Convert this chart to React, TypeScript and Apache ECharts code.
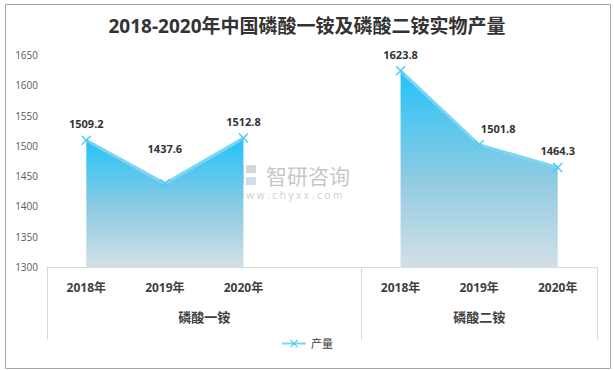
import React, { useEffect, useRef } from "react";
import * as echarts from "echarts";

const titleText = "2018-2020年中国磷酸一铵及磷酸二铵实物产量";
const yearLabels = ["2018年", "2019年", "2020年", "", "2018年", "2019年", "2020年"];
const groupNames = ["磷酸一铵", "磷酸二铵"];
const groupCenters = [2, 5.5];
const groupBounds = [0, 4, 7];
const monoValues = [1509.2, 1437.6, 1512.8, null, null, null, null];
const diValues = [null, null, null, null, 1623.8, 1501.8, 1464.3];
const seriesName = "产量";
const yTicks = { min: 1300, max: 1650, interval: 50 };

const xPath =
  "path://M0,1L1,0L5,4L9,0L10,1L6,5L10,9L9,10L5,6L1,10L0,9L4,5Z";

const labelShift: Record<string, number[]> = {
  "1437.6": [0, -19],
  "1501.8": [19, 0],
};

function buildData(vals: (number | null)[]) {
  return vals.map((v) => {
    if (v === null) return null;
    const off = labelShift[String(v)];
    return off ? { value: v, label: { offset: off } } : v;
  });
}

const areaGradient = () =>
  new echarts.graphic.LinearGradient(0, 0, 0, 1, [
    { offset: 0, color: "#22c3f9" },
    { offset: 0.55, color: "#8fcbe2" },
    { offset: 1, color: "#d3e0e7" },
  ]);

function makeSeries(vals: (number | null)[]) {
  return {
    name: seriesName,
    type: "line",
    data: buildData(vals),
    connectNulls: false,
    symbol: xPath,
    symbolSize: 10,
    itemStyle: { color: "#4ccaf4" },
    lineStyle: { color: "#7dd5f4", width: 3 },
    areaStyle: { color: areaGradient(), opacity: 1 },
    label: {
      show: true,
      position: "top",
      distance: 6,
      fontSize: 11,
      fontWeight: "bold",
      color: "#333333",
      fontFamily: "Open Sans, Noto Sans CJK SC, sans-serif",
    },
  };
}

export default function App() {
  const ref = useRef<HTMLDivElement>(null);
  useEffect(() => {
    if (!ref.current) return;
    const chart = echarts.init(ref.current, undefined, { renderer: "svg" });
    const font = "Open Sans, Noto Sans CJK SC, sans-serif";
    chart.setOption({
      animation: false,
      backgroundColor: "#ffffff",
      textStyle: { fontFamily: font },
      title: {
        text: titleText,
        left: "center",
        top: 11,
        textStyle: { fontSize: 19, fontWeight: "bold", color: "#333333", fontFamily: font },
      },
      legend: {
        bottom: 16,
        left: "center",
        itemWidth: 24,
        itemHeight: 10,
        data: [seriesName],
        textStyle: { fontSize: 11, color: "#404040", fontFamily: font },
      },
      grid: { left: 47, right: 17, top: 55, bottom: 103, containLabel: false },
      xAxis: [
        {
          type: "category",
          data: yearLabels,
          boundaryGap: true,
          axisLine: { show: true, lineStyle: { color: "#d9d9d9" } },
          axisTick: { show: false },
          axisLabel: {
            margin: 14,
            fontSize: 12,
            fontWeight: "bold",
            color: "#404040",
            fontFamily: font,
          },
        },
        {
          type: "value",
          position: "bottom",
          min: 0,
          max: 7,
          axisLine: { show: false },
          splitLine: { show: false },
          axisTick: {
            show: true,
            inside: false,
            length: 73,
            customValues: groupBounds,
            lineStyle: { color: "#d9d9d9" },
          },
          axisLabel: {
            customValues: groupCenters,
            margin: 43,
            fontSize: 13,
            fontWeight: "bold",
            color: "#404040",
            fontFamily: font,
            formatter: (v: number) => {
              const i = groupCenters.indexOf(v);
              return i >= 0 ? groupNames[i] : "";
            },
          },
        },
      ],
      yAxis: {
        type: "value",
        min: yTicks.min,
        max: yTicks.max,
        interval: yTicks.interval,
        axisLine: { show: false },
        axisTick: { show: false },
        splitLine: { show: false },
        axisLabel: {
          fontSize: 10,
          color: "#595959",
          margin: 9,
          fontFamily: font,
          formatter: (v: number) => String(v),
        },
      },
      series: [makeSeries(monoValues), makeSeries(diValues)],
      graphic: [
        {
          type: "rect",
          left: 3,
          top: 2,
          shape: { width: 605, height: 364 },
          style: { fill: "none", stroke: "#a6a6a6", lineWidth: 1 },
          silent: true,
        },
        {
          type: "group",
          left: 236,
          top: 165,
          silent: true,
          children: [
            { type: "rect", shape: { x: 0, y: 0, width: 8, height: 20 }, style: { fill: "rgba(90,140,200,0.3)" } },
            { type: "rect", shape: { x: 10, y: 0, width: 10, height: 8 }, style: { fill: "rgba(120,120,120,0.3)" } },
            { type: "rect", shape: { x: 10, y: 12, width: 10, height: 8 }, style: { fill: "rgba(90,140,200,0.3)" } },
            {
              type: "text",
              x: 30,
              y: 0,
              style: { text: "智研咨询", fontSize: 21, fill: "rgba(140,140,140,0.5)", fontFamily: font },
            },
            {
              type: "text",
              x: 0,
              y: 25,
              style: {
                text: "w w w . c h y x x . c o m",
                fontSize: 10,
                fill: "rgba(150,150,150,0.5)",
                fontFamily: font,
              },
            },
          ],
        },
      ],
    });
    return () => chart.dispose();
  }, []);
  return (
    <div
      ref={ref}
      style={{ position: "fixed", left: 0, top: 0, width: 614, height: 370, background: "#fff" }}
    />
  );
}
